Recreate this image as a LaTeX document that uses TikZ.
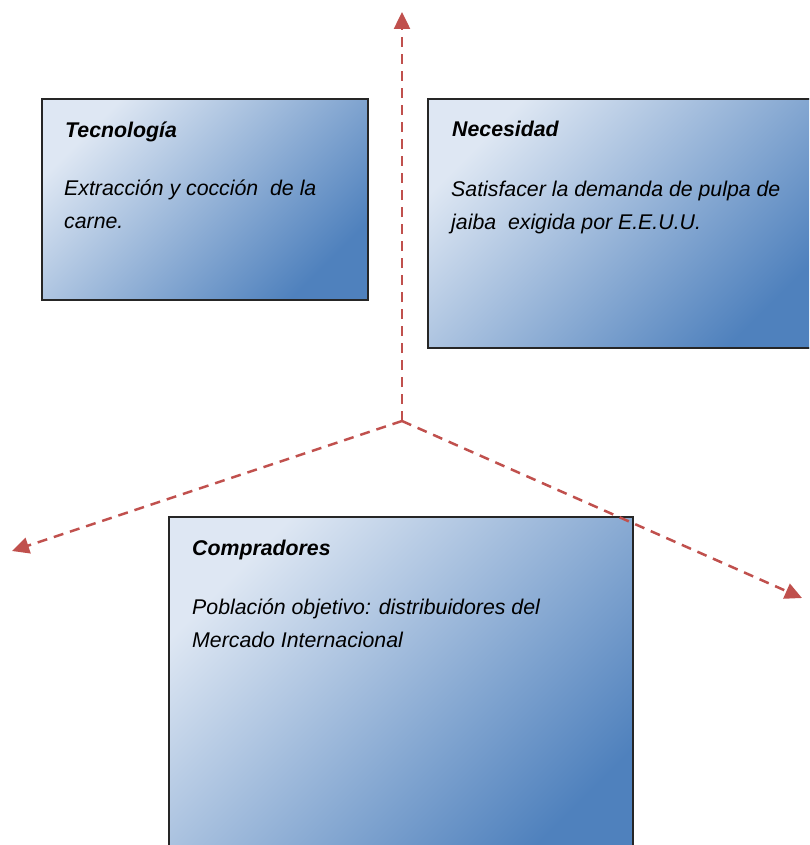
\documentclass[tikz,border=0pt]{standalone}
\usepackage{fontspec}
\setmainfont{Liberation Sans}
\usetikzlibrary{arrows.meta}
\definecolor{lightb}{RGB}{222,231,243}
\definecolor{darkb}{RGB}{79,129,189}
\definecolor{arrred}{RGB}{192,80,77}
\tikzset{
  boxstyle/.style={draw=black!85, line width=1.3pt, shade, top color=lightb, bottom color=darkb, shading angle=45},
  ttl/.style={anchor=base west, inner sep=0pt, font=\fontsize{21.3}{32.5}\selectfont\bfseries\itshape},
  bdy/.style={anchor=base west, inner sep=0pt, align=left, font=\fontsize{21.3}{32.5}\selectfont\itshape},
  arr/.style={draw=arrred, line width=2.5pt, dash pattern=on 10pt off 7pt, -{Triangle[length=17pt,width=16pt]}}
}
\begin{document}
\begin{tikzpicture}[x=1pt,y=-1pt]
\useasboundingbox (0,0) rectangle (809,845);
\clip (0,0) rectangle (809,845);
\path[boxstyle] (42,99) rectangle (368,300);
\path[boxstyle] (428,99) rectangle (822,348);
\path[boxstyle] (169,517) rectangle (633,870);
\node[ttl] (t1) at (65,138) {Tecnología};
\node[bdy] (b1) at (64,228.5) {Extracción y cocción~ de la\\carne.};
\node[ttl] (t2) at (452,137) {Necesidad};
\node[bdy] (b2) at (451,229) {Satisfacer la demanda de pulpa de\\jaiba~ exigida por E.E.U.U.};
\node[ttl] (t3) at (192,555) {Compradores};
\node[bdy] (b3) at (192,647) {Población objetivo: distribuidores del\\Mercado Internacional};
\coordinate (c) at (402,421);
\coordinate (up) at (402,12);
\coordinate (lf) at (12,551);
\coordinate (rt) at (802,598);
\draw[arr] (c) -- (up);
\draw[arr] (c) -- (lf);
\draw[arr] (c) -- (rt);
\end{tikzpicture}
\end{document}
